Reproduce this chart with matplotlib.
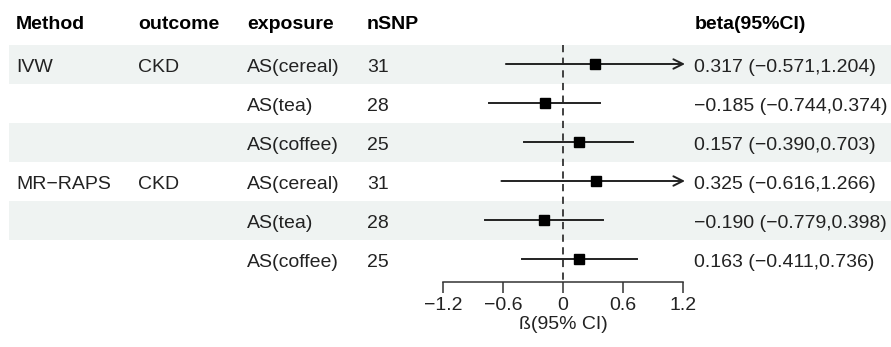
import numpy as np
import matplotlib.pyplot as plt

plt.rcParams['font.family'] = ['Liberation Sans', 'DejaVu Sans']

# Table data
methods = ['IVW', '', '', 'MR\u2212RAPS', '', '']
outcomes = ['CKD', '', '', 'CKD', '', '']
exposures = ['AS(cereal)', 'AS(tea)', 'AS(coffee)', 'AS(cereal)', 'AS(tea)', 'AS(coffee)']
nsnp = [31, 28, 25, 31, 28, 25]
beta = [0.317, -0.185, 0.157, 0.325, -0.190, 0.163]
lower = [-0.571, -0.744, -0.390, -0.616, -0.779, -0.411]
upper = [1.204, 0.374, 0.703, 1.266, 0.398, 0.736]
xticks = [-1.2, -0.6, 0, 0.6, 1.2]

W, H = 891, 347
row_px = 39.0      # row height in pixels
row1_px = 64.0     # centre of first row
axis_px = 282.0    # position of the x axis line

def px_to_row(p):
    return 1 + (p - row1_px) / row_px

y_top = px_to_row(0)
y_bot = px_to_row(H)
y_axis = px_to_row(axis_px)

fig = plt.figure(figsize=(W / 100, H / 100), dpi=100)

# background axes in pixel x / row y units
bg = fig.add_axes([0, 0, 1, 1])
bg.set_xlim(0, W)
bg.set_ylim(y_bot, y_top)
bg.axis('off')

rows = np.arange(1, len(beta) + 1)
for r in rows:
    if r % 2 == 1:
        bg.fill_between([9, W], r - 0.5, r + 0.5, color='#eff3f2', lw=0, zorder=0)

txt_col = '#222222'
fs = 14
headers = ['Method', 'outcome', 'exposure', 'nSNP', 'beta(95%CI)']
col_x = [16, 138, 247, 367, 695]
for hx, h in zip(col_x, headers):
    bg.text(hx, 0.11, h, fontsize=fs, fontweight='bold', color='black', va='baseline', ha='left')

for r, m, o, e, n, b, lo, up in zip(rows, methods, outcomes, exposures, nsnp, beta, lower, upper):
    yb = r + 0.2
    bg.text(col_x[0], yb, m, fontsize=fs, color=txt_col, va='baseline')
    bg.text(col_x[1], yb, o, fontsize=fs, color=txt_col, va='baseline')
    bg.text(col_x[2], yb, e, fontsize=fs, color=txt_col, va='baseline')
    bg.text(col_x[3], yb, str(n), fontsize=fs, color=txt_col, va='baseline')
    lab = f'{b:.3f} ({lo:.3f},{up:.3f})'.replace('-', '\u2212')
    bg.text(col_x[4] - 1, yb, lab, fontsize=fs, color=txt_col, va='baseline')

# forest axes
x0, x1 = 443, 683
ax = fig.add_axes([x0 / W, (H - axis_px) / H, (x1 - x0) / W, axis_px / H])
ax.set_xlim(xticks[0], xticks[-1])
ax.set_ylim(y_axis, y_top)
ax.patch.set_alpha(0)
for s in ['top', 'right', 'left']:
    ax.spines[s].set_visible(False)
ax.spines['bottom'].set_linewidth(1.1)
ax.spines['bottom'].set_color('#333333')
ax.set_yticks([])
ax.set_xticks(xticks)
ax.set_xticklabels(['\u22121.2', '\u22120.6', '0', '0.6', '1.2'])
ax.tick_params(axis='x', direction='out', length=8, width=1.1, color='#333333',
               pad=3, labelsize=fs, labelcolor=txt_col)
ax.set_xlabel('\u00df(95% CI)', fontsize=fs, color=txt_col, labelpad=1)

ax.plot([0, 0], [0.5, y_axis], ls=(0, (4, 3)), color='#333333', lw=1.3, clip_on=False, zorder=2)

xmax = xticks[-1]
for r, b, lo, up in zip(rows, beta, lower, upper):
    if up > xmax:
        ax.annotate('', xy=(xmax + 0.02, r), xytext=(lo, r),
                    arrowprops=dict(arrowstyle='->', lw=1.4, color='#222222',
                                    mutation_scale=17, shrinkA=0, shrinkB=0),
                    annotation_clip=False)
    else:
        ax.plot([lo, up], [r, r], color='#222222', lw=1.4, clip_on=False)
    ax.plot(b, r, marker='s', ms=7.5, color='black', clip_on=False, zorder=3)

fig.savefig('out.png', dpi=100)
